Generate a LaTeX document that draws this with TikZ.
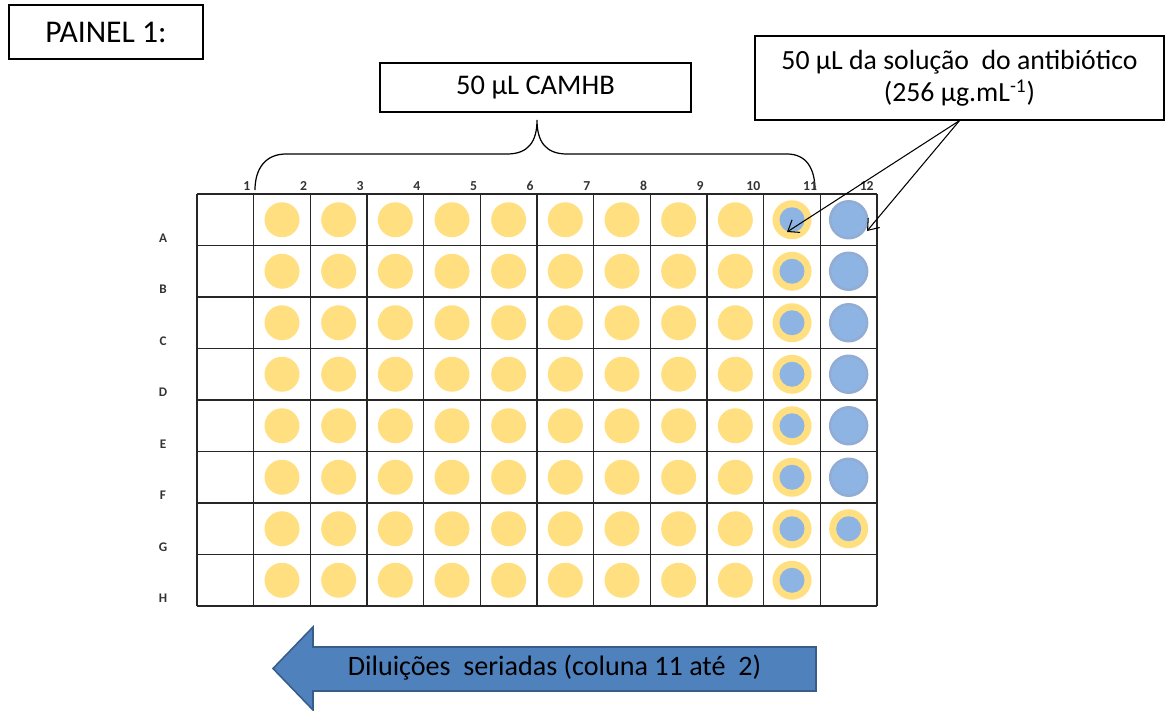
\documentclass[tikz,border=0pt]{standalone}
\usepackage{fontspec}
\setmainfont{Carlito}
\usetikzlibrary{arrows.meta}
\definecolor{wellyellow}{RGB}{255,223,128}
\definecolor{wellblue}{RGB}{141,180,226}
\definecolor{wellrim}{RGB}{146,172,212}
\definecolor{dilfill}{RGB}{79,129,189}
\definecolor{dilline}{RGB}{56,93,138}
\tikzset{
  labelbox/.style={draw, line width=0.7pt, inner sep=0pt, align=center},
  platerule/.style={line width=0.8pt, draw=black!85},
  plainwell/.style={circle, fill=wellyellow, minimum size=0.7cm, inner sep=0pt},
  rimwell/.style={circle, fill=wellyellow, minimum size=0.78cm, inner sep=0pt},
  innerwell/.style={circle, fill=wellblue, minimum size=0.5cm, inner sep=0pt},
  stockwell/.style={circle, fill=wellblue, draw=wellrim, line width=1.4pt, minimum size=0.74cm, inner sep=0pt},
  collab/.style={anchor=east, inner sep=0pt, font=\fontsize{7.8}{9}\selectfont\bfseries, text=black!80},
  rowlab/.style={inner sep=0pt, font=\fontsize{7.5}{9}\selectfont\bfseries, text=black!80},
  pointer/.style={line width=0.6pt, -{Straight Barb[length=2mm,width=3mm]}}
}
\begin{document}
\begin{tikzpicture}[x=0.02cm, y=-0.02cm]
\useasboundingbox (0,0) rectangle (1166,710);
\node[labelbox, line width=1.6pt, minimum width=3.88cm, minimum height=1.08cm, font=\fontsize{18}{20}\selectfont] (painel) at (106,32) {PAINEL 1:};
\node[labelbox, minimum width=6.22cm, minimum height=0.98cm, font=\fontsize{16.2}{18}\selectfont] (camhb) at (535.5,87.5) {50 μL CAMHB};
\node[labelbox, minimum width=8.18cm, minimum height=1.68cm, font=\fontsize{15.8}{18.3}\selectfont] (abx) at (959.5,78) {50 μL da solução \ do antibiótico\\(256 μg.mL\textsuperscript{-1})};
\coordinate (braceL) at (255,190);
\coordinate (braceTip) at (537,120);
\coordinate (braceR) at (815,190);
\draw[line width=0.7pt] (braceL) .. controls (255,168) and (266,154) .. (286,154) -- (507,154) .. controls (528,154) and (537,142) .. (braceTip) .. controls (537,142) and (546,154) .. (567,154) -- (787,154) .. controls (806,154) and (815,168) .. (braceR);
\foreach \i in {0,...,12}
  \draw[platerule] ({197+\i*680/12},194) -- ({197+\i*680/12},606);
\foreach \j in {0,...,8}
  \draw[platerule] (197,{194+\j*51.5}) -- (877,{194+\j*51.5});
\foreach \c in {1,...,12}
  \node[collab] (c\c) at ({197+\c*680/12-3},186) {\c};
\foreach \r/\rl in {1/A,2/B,3/C,4/D,5/E,6/F,7/G,8/H} {
  \node[rowlab] (r\rl) at (163,{194+(\r-0.5)*51.5+18}) {\rl};
  \foreach \c in {2,...,10}
    \node[plainwell] (w\rl\c) at ({197+(\c-0.5)*680/12},{194+(\r-0.5)*51.5}) {};
  \node[rimwell] (w\rl11) at ({197+10.5*680/12},{194+(\r-0.5)*51.5}) {};
  \node[innerwell] (v\rl11) at (w\rl11) {};
}
\foreach \r/\rl in {1/A,2/B,3/C,4/D,5/E,6/F}
  \node[stockwell] (w\rl12) at ({197+11.5*680/12},{194+(\r-0.5)*51.5}) {};
\node[rimwell] (wG12) at ({197+11.5*680/12},{194+6.5*51.5}) {};
\node[innerwell] (vG12) at (wG12) {};
\coordinate (hitA11) at (787,232);
\coordinate (hitA12) at (867,231);
\draw[pointer] (abx.south) -- (hitA11);
\draw[pointer] (abx.south) -- (hitA12);
\draw[fill=dilfill, draw=dilline, line width=0.9pt] (273,668.5) -- (313,627) -- (313,647) -- (816,647) -- (816,691) -- (313,691) -- (313,710) -- cycle;
\node[inner sep=0pt, font=\fontsize{16}{18}\selectfont] (dil) at (554.5,668) {Diluições \ seriadas (coluna 11 até \ 2)};
\end{tikzpicture}
\end{document}
